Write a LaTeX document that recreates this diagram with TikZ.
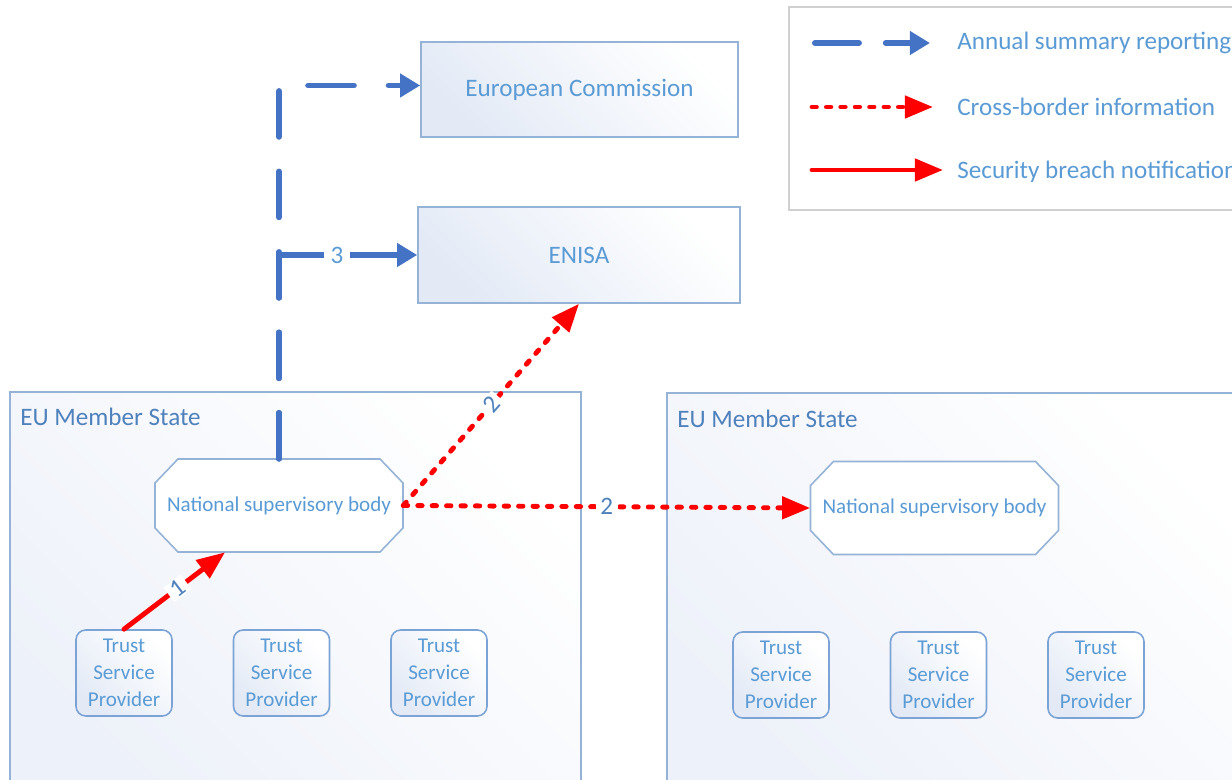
\documentclass[tikz,border=0pt]{standalone}
\usepackage{fontspec}
\setmainfont{Carlito}
\usetikzlibrary{arrows.meta,calc}
\definecolor{lineblue}{HTML}{4472C4}
\definecolor{txtblue}{HTML}{5B9BD5}
\definecolor{darktxt}{HTML}{4F81BD}
\definecolor{boxline}{HTML}{95B3D7}
\definecolor{tspline}{HTML}{7BA3D6}
\definecolor{gradA}{HTML}{E3EAF6}
\definecolor{gradB}{HTML}{EDF1F9}
\definecolor{legline}{HTML}{D0D0D0}
\definecolor{redline}{HTML}{FF0000}
\newcommand\nsbshape[2]{\draw[octo,shift={(#1,#2)}] (-101,-46.5) -- (101,-46.5) -- (124,-22.5) -- (124,22.5) -- (101,46.5) -- (-101,46.5) -- (-124,22.5) -- (-124,-22.5) -- cycle;}
\tikzset{
  bigfont/.style={font=\fontsize{14.3}{17}\selectfont},
  smallfont/.style={font=\fontsize{12}{15.3}\selectfont},
  bigbox/.style={draw=boxline, line width=0.9pt, top color=gradA, bottom color=white, shading angle=135, inner sep=0pt, text=txtblue, bigfont},
  msbox/.style={draw=boxline, line width=0.9pt, top color=gradB, bottom color=white, shading angle=135, inner sep=0pt},
  legbox/.style={draw=legline, line width=0.9pt, fill=white, inner sep=0pt},
  mslabel/.style={text=darktxt, bigfont, inner sep=0pt},
  legtxt/.style={text=txtblue, bigfont, inner sep=0pt},
  octo/.style={draw=boxline, line width=0.9pt, fill=white},
  nsb/.style={minimum width=4.96cm, minimum height=1.86cm, inner sep=0pt, text=txtblue, smallfont},
  tsp/.style={draw=tspline, line width=0.9pt, rounded corners=5.5pt, top color=gradA, bottom color=white, shading angle=135, minimum width=1.92cm, minimum height=1.72cm, inner sep=0pt, align=center, text=txtblue, smallfont},
  blueconn/.style={draw=lineblue, line width=3.4pt, line cap=round, dash pattern=on 26pt off 19.8pt, -{Triangle[length=11.5pt,width=13pt]}},
  reddot/.style={draw=redline, line width=2.8pt, line cap=round, dash pattern=on 2.5pt off 5.7pt, -{Triangle[length=16pt,width=12.5pt]}},
  redsolid/.style={draw=redline, line width=2.8pt, line cap=round, -{Triangle[length=16pt,width=12.5pt]}},
  numlab/.style={fill=white, inner xsep=2.5pt, inner ysep=0.5pt, text=darktxt, bigfont},
}
\begin{document}
\begin{tikzpicture}[x=0.02cm,y=-0.02cm]
\useasboundingbox (0,0) rectangle (1232,780);
\clip (0,0) rectangle (1232,780);
% member state containers
\node[msbox, minimum width=11.42cm, minimum height=8.16cm] (msL) at (295.5,596) {};
\node[msbox, minimum width=11.86cm, minimum height=8.14cm] (msR) at (963.5,596.5) {};
\node[mslabel, anchor=west] (msLt) at (20,417) {EU Member State};
\node[mslabel, anchor=west] (msRt) at (677,419) {EU Member State};
% EU level bodies
\node[bigbox, minimum width=6.34cm, minimum height=1.9cm] (ec) at (579.5,89.5) {\raisebox{-1.5pt}{European Commission}};
\node[bigbox, minimum width=6.44cm, minimum height=1.92cm] (enisa) at (579,255) {ENISA};
% legend
\node[legbox, minimum width=9.42cm, minimum height=4.06cm] (legend) at (1024.5,108.5) {};
% national supervisory bodies
\nsbshape{279}{505.5}
\node[nsb] (nsbL) at (279,505.5) {National supervisory body};
\nsbshape{934.5}{508}
\node[nsb] (nsbR) at (934.5,508) {National supervisory body};
% trust service providers
\node[tsp] (tspL1) at (124,673) {Trust\\Service\\Provider};
\node[tsp] (tspL2) at (281.5,673) {Trust\\Service\\Provider};
\node[tsp] (tspL3) at (439,673) {Trust\\Service\\Provider};
\node[tsp] (tspR1) at (781,675) {Trust\\Service\\Provider};
\node[tsp] (tspR2) at (938.5,675) {Trust\\Service\\Provider};
\node[tsp] (tspR3) at (1096,675) {Trust\\Service\\Provider};
% connectors
\draw[blueconn] (nsbL.north) |- ($(ec.west)+(0,-4)$);
\draw[blueconn, dash pattern=on 26pt off 19.8pt on 26pt off 19.8pt on 400pt off 1pt] (nsbL.north) |- (enisa.west) node[numlab, pos=0.71, text=txtblue, inner xsep=4pt] {3};
\draw[reddot] (nsbL.east) -- (enisa.south) node[numlab, sloped, pos=0.5] {2};
\draw[reddot] (nsbL.east) -- (nsbR.west) node[numlab, pos=0.5] {2};
\draw[redsolid] (tspL1.north) -- ($(nsbL.south)+(-54,0)$) node[numlab, sloped, pos=0.53] {1};
% legend entries
\coordinate (k1a) at (815,43); \coordinate (k1b) at (930,43);
\coordinate (k2a) at (812,107); \coordinate (k2b) at (933,107);
\coordinate (k3a) at (812,170); \coordinate (k3b) at (943,170);
\draw[blueconn, dash pattern=on 25pt off 15.3pt on 100pt off 1pt] (k1a) -- (k1b);
\draw[reddot] (k2a) -- (k2b);
\draw[redsolid] (k3a) -- (k3b);
\node[legtxt, anchor=west] (k1t) at (957,43) {Annual summary reporting};
\node[legtxt, anchor=west] (k2t) at (957,107) {Cross-border information};
\node[legtxt, anchor=west] (k3t) at (957,172) {Security breach notification};
\end{tikzpicture}
\end{document}
